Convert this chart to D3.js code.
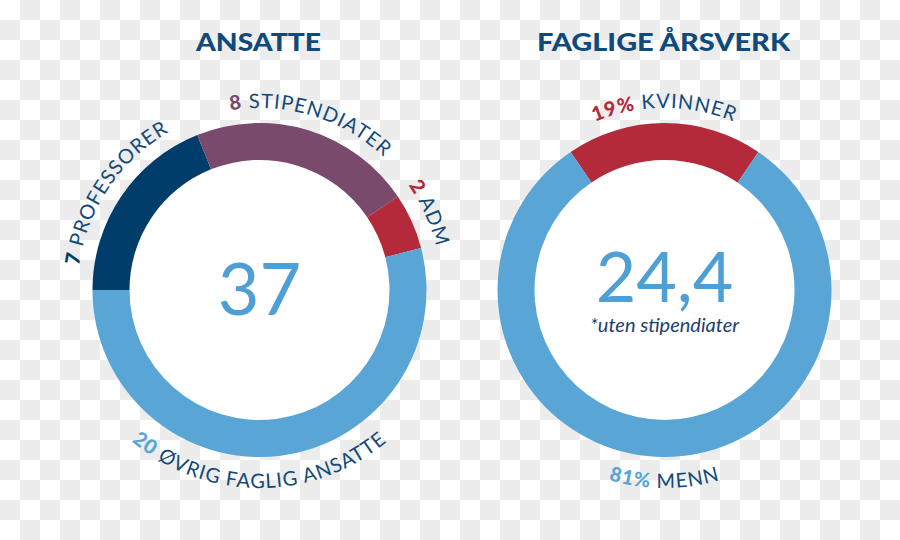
<!DOCTYPE html>
<html>
<head>
<meta charset="utf-8">
<script src="https://cdn.jsdelivr.net/npm/d3@7"></script>
<style>
  html, body { margin: 0; padding: 0; background: #fff; }
  svg { display: block; }
</style>
</head>
<body>
<svg id="chart" width="900" height="540"></svg>
<script>
// ---- data ----
const titles = ["ANSATTE", "FAGLIGE ÅRSVERK"];
const ansatteLabels = ["PROFESSORER", "STIPENDIATER", "ADM", "ØVRIG FAGLIG ANSATTE"];
const ansatteValues = [7, 8, 2, 20];
const arsverkLabels = ["KVINNER", "MENN"];
const arsverkValues = [19, 81];
const centerTexts = ["37", "24,4"];
const centerNote = "*uten stipendiater";

// ---- styles ----
const ansatteColors = ["#003d6a", "#7a4a6d", "#b32b3b", "#59a5d6"];
const arsverkColors = ["#b32b3b", "#59a5d6"];
const textNavy = "#134a7a";
const numberBlue = "#4f9fd7";
const titleWidths = [125, 253];

const W = 900, H = 540;
const svg = d3.select("#chart");

// checkerboard background (transparency pattern of the reference)
const defs = svg.append("defs");
const pat = defs.append("pattern").attr("id", "checker")
  .attr("width", 40).attr("height", 40).attr("patternUnits", "userSpaceOnUse");
pat.append("rect").attr("width", 40).attr("height", 40).attr("fill", "#ffffff");
pat.append("rect").attr("x", 20).attr("y", 0).attr("width", 20).attr("height", 20).attr("fill", "#ececec");
pat.append("rect").attr("x", 0).attr("y", 20).attr("width", 20).attr("height", 20).attr("fill", "#ececec");
svg.append("rect").attr("width", W).attr("height", H).attr("fill", "url(#checker)");

const outerR = 167, innerR = 130;
const rTop = 182, rBot = 198;
const cy = 290;
const centers = [259.5, 664.5];

const arc = d3.arc().innerRadius(innerR).outerRadius(outerR);
const pt = (a, r) => [r * Math.sin(a), -r * Math.cos(a)];

function donut(idx, labels, values, colors, startAngle, suffix) {
  const g = svg.append("g").attr("transform", `translate(${centers[idx]},${cy})`);
  const pie = d3.pie().sort(null).value(d => d)
    .startAngle(startAngle).endAngle(startAngle + 2 * Math.PI);
  const arcs = pie(values);

  g.append("circle").attr("r", innerR + 1).attr("fill", "#fff");
  g.selectAll("path.seg").data(arcs).join("path")
    .attr("class", "seg")
    .attr("d", arc)
    .attr("fill", (d, i) => colors[i]);

  arcs.forEach((d, i) => {
    let m = (d.startAngle + d.endAngle) / 2;
    const isTop = Math.cos(m) > 0;
    let dPath, r;
    if (isTop) {
      r = rTop;
      const p0 = pt(m - Math.PI / 2, r), p1 = pt(m + Math.PI / 2, r);
      dPath = `M${p0[0]},${p0[1]} A${r},${r} 0 0 1 ${p1[0]},${p1[1]}`;
    } else {
      m = Math.PI;
      r = rBot;
      const p0 = pt(m + Math.PI / 2, r), p1 = pt(m - Math.PI / 2, r);
      dPath = `M${p0[0]},${p0[1]} A${r},${r} 0 0 0 ${p1[0]},${p1[1]}`;
    }
    const id = `lp-${idx}-${i}`;
    defs.append("path").attr("id", id)
      .attr("d", dPath)
      .attr("transform", `translate(${centers[idx]},${cy})`);
    const t = svg.append("text")
      .attr("font-family", "Lato, 'Open Sans', sans-serif")
      .attr("font-size", 20)
      .attr("letter-spacing", 1)
      .attr("fill", textNavy);
    const tp = t.append("textPath")
      .attr("href", `#${id}`)
      .attr("startOffset", "50%")
      .attr("text-anchor", "middle");
    tp.append("tspan").attr("font-weight", 900).attr("fill", colors[i])
      .text(values[i] + suffix);
    tp.append("tspan").text(" " + labels[i]);
  });

  // title
  svg.append("text")
    .attr("x", centers[idx] - 1).attr("y", 51)
    .attr("text-anchor", "middle")
    .attr("font-family", "Lato, sans-serif")
    .attr("font-weight", 900)
    .attr("font-size", 25)
    .attr("textLength", titleWidths[idx])
    .attr("lengthAdjust", "spacingAndGlyphs")
    .attr("fill", "#0f4a7b")
    .text(titles[idx]);
  return g;
}

const gL = donut(0, ansatteLabels, ansatteValues, ansatteColors, -Math.PI / 2, "");
const rStart = -(arsverkValues[0] / d3.sum(arsverkValues)) * Math.PI;
const gR = donut(1, arsverkLabels, arsverkValues, arsverkColors, rStart, "%");

gL.append("text")
  .attr("x", 0).attr("y", 25)
  .attr("text-anchor", "middle")
  .attr("font-family", "Lato, sans-serif")
  .attr("font-weight", 400)
  .attr("font-size", 72)
  .attr("fill", numberBlue)
  .text(centerTexts[0]);

gR.append("text")
  .attr("x", 0).attr("y", 12)
  .attr("text-anchor", "middle")
  .attr("font-family", "Lato, sans-serif")
  .attr("font-weight", 400)
  .attr("font-size", 70)
  .attr("fill", numberBlue)
  .text(centerTexts[1]);

gR.append("text")
  .attr("x", 0).attr("y", 42)
  .attr("text-anchor", "middle")
  .attr("font-family", "Lato, sans-serif")
  .attr("font-style", "italic")
  .attr("font-size", 20)
  .attr("fill", "#1d3f6e")
  .text(centerNote);
</script>
</body>
</html>
